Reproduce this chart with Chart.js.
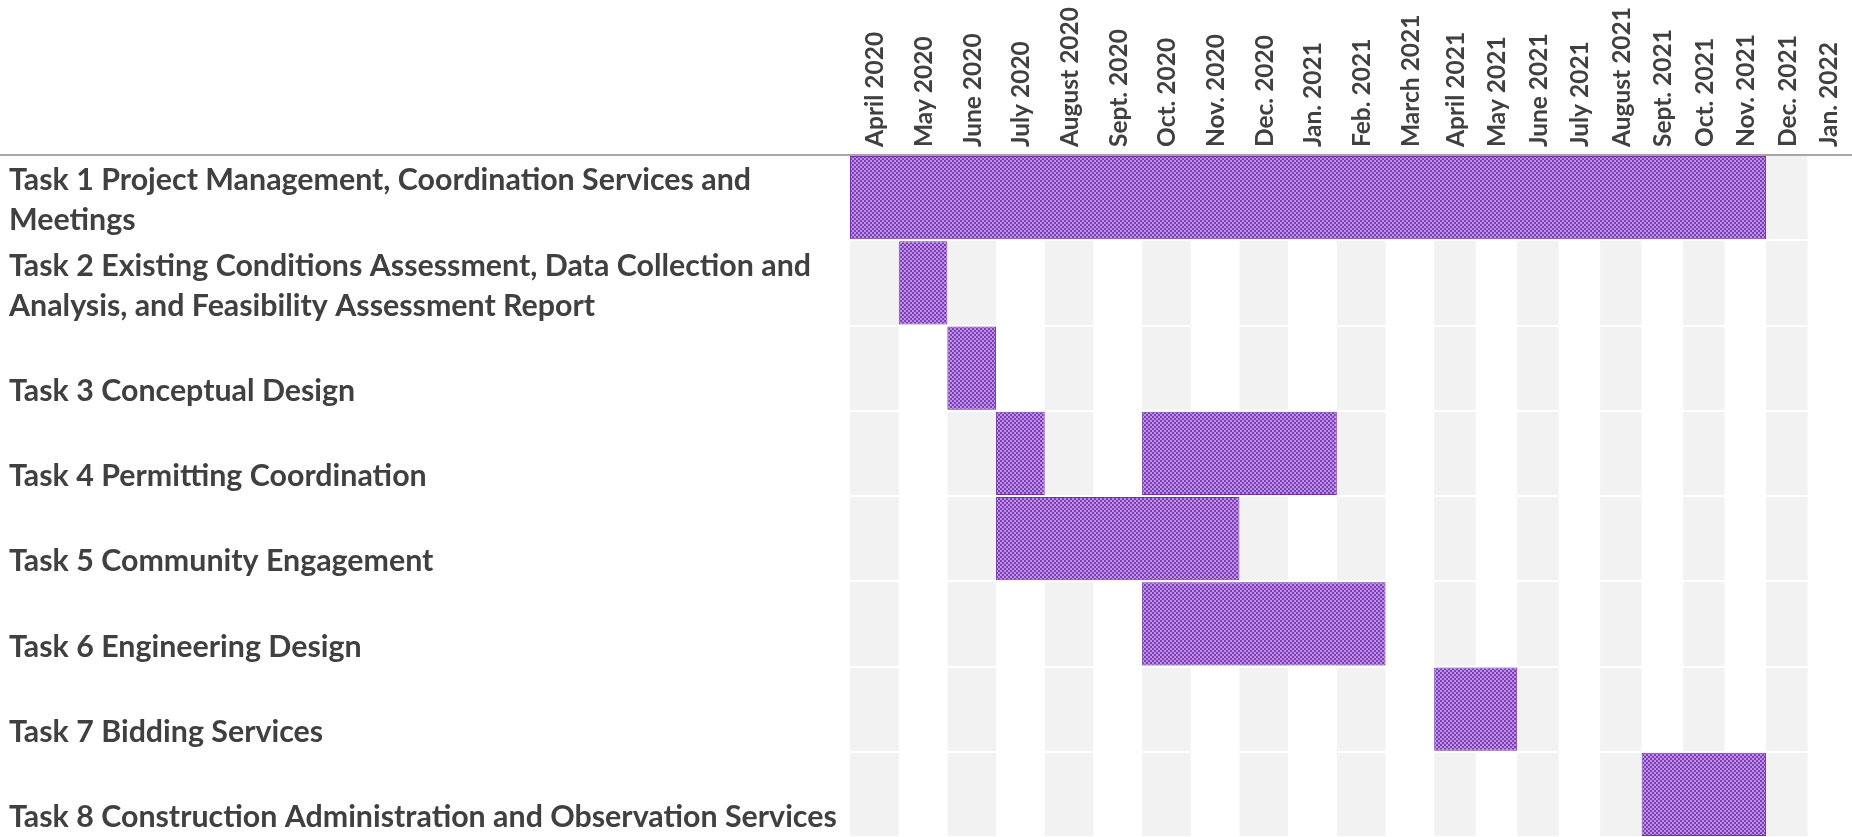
<!DOCTYPE html>
<html>
<head>
<meta charset="utf-8">
<script src="https://cdn.jsdelivr.net/npm/chart.js@4.4.1/dist/chart.umd.min.js"></script>
<style>
  html, body { margin: 0; padding: 0; background: #ffffff; }
  #wrap { position: relative; width: 1852px; height: 837px; }
</style>
</head>
<body>
<div id="wrap"><canvas id="c"></canvas></div>
<script>
// ---------------- DATA ----------------
const MONTHS = ['April 2020', 'May 2020', 'June 2020', 'July 2020', 'August 2020', 'Sept. 2020',
  'Oct. 2020', 'Nov. 2020', 'Dec. 2020', 'Jan. 2021', 'Feb. 2021', 'March 2021', 'April 2021',
  'May 2021', 'June 2021', 'July 2021', 'August 2021', 'Sept. 2021', 'Oct. 2021', 'Nov. 2021',
  'Dec. 2021', 'Jan. 2022'];

const TASKS = [
  ['Task 1 Project Management, Coordination Services and', 'Meetings'],
  ['Task 2 Existing Conditions Assessment, Data Collection and', 'Analysis, and Feasibility Assessment Report'],
  'Task 3 Conceptual Design',
  'Task 4 Permitting Coordination',
  'Task 5 Community Engagement',
  'Task 6 Engineering Design',
  'Task 7 Bidding Services',
  'Task 8 Construction Administration and Observation Services'
];

// spans in month index: [first month, month after the last month]
const MAIN_SPAN = [[0, 20], [1, 2], [2, 3], [3, 4], [3, 8], [6, 11], [12, 14], [17, 20]];
const EXTRA_SPAN = [null, null, null, [6, 10], null, null, null, null];

// ---------------- LAYOUT / STYLE ----------------
const FONT = 'Lato';
const TEXT_COLOR = '#404040';
const STRIPE = '#f2f2f2';
const WIDE_COLS = 12;        // first columns are wider in the original sheet
const NARROW_RATIO = 0.852;  // width of later columns relative to the first ones

const mctx = document.createElement('canvas').getContext('2d');
function fitSize(text, target) {
  mctx.font = 'bold 100px ' + FONT;
  return 100 * target / mctx.measureText(text).width;
}
const TASK_SIZE = fitSize('Task 8 Construction Administration and Observation Services', 828);
const MONTH_SIZE = fitSize('August 2020', 140);
const MONTH_LH = Math.round(MONTH_SIZE * 1.2);

// bar fill pattern (checkered purple)
const tile = document.createElement('canvas');
tile.width = 4; tile.height = 4;
const tctx = tile.getContext('2d');
tctx.fillStyle = '#bd90e4'; tctx.fillRect(0, 0, 4, 4);
tctx.fillStyle = '#7d40b8'; tctx.fillRect(0, 0, 2, 2); tctx.fillRect(2, 2, 2, 2);
const BAR_FILL = tctx.createPattern(tile, 'repeat');

// Column scale: linear month scale with two column widths
class ColumnScale extends Chart.LinearScale {
  static id = 'columns';
  buildTicks() {
    return MONTHS.map((m, i) => ({ value: i + 0.5 }));
  }
  _unit() {
    const n = MONTHS.length;
    return this.width / (WIDE_COLS + (n - WIDE_COLS) * NARROW_RATIO);
  }
  getPixelForValue(value) {
    const u = this._unit();
    const px = value <= WIDE_COLS ? value * u : WIDE_COLS * u + (value - WIDE_COLS) * u * NARROW_RATIO;
    return this.left + px;
  }
  getValueForPixel(pixel) {
    const u = this._unit();
    const d = pixel - this.left;
    return d <= WIDE_COLS * u ? d / u : WIDE_COLS + (d - WIDE_COLS * u) / (u * NARROW_RATIO);
  }
}
Chart.register(ColumnScale);

const decor = {
  id: 'decor',
  beforeDraw(chart) {
    const { ctx, chartArea: a, scales: { x } } = chart;
    ctx.save();
    ctx.fillStyle = STRIPE;
    for (let i = 0; i < MONTHS.length; i += 2) {
      const l = x.getPixelForValue(i), r = x.getPixelForValue(i + 1);
      ctx.fillRect(l, a.top, r - l, a.bottom - a.top);
    }
    ctx.restore();
  },
  beforeDatasetsDraw(chart) {
    const { ctx, chartArea: a } = chart;
    ctx.save();
    ctx.strokeStyle = '#a6a6a6';
    ctx.lineWidth = 2;
    ctx.beginPath();
    ctx.moveTo(0, a.top);
    ctx.lineTo(chart.width, a.top);
    ctx.stroke();
    ctx.restore();
  }
};

const barStyle = {
  backgroundColor: BAR_FILL,
  borderColor: '#7434a8',
  borderWidth: 1,
  borderSkipped: false,
  grouped: false,
  barPercentage: 1,
  categoryPercentage: 0.975
};

new Chart(document.getElementById('c'), {
  type: 'bar',
  data: {
    labels: TASKS,
    datasets: [
      Object.assign({ label: 'Schedule', data: MAIN_SPAN }, barStyle),
      Object.assign({ label: 'Schedule (2)', data: EXTRA_SPAN }, barStyle)
    ]
  },
  options: {
    indexAxis: 'y',
    responsive: true,
    maintainAspectRatio: false,
    animation: false,
    layout: { padding: { left: 9, right: 3, top: 0, bottom: -2 } },
    plugins: { legend: { display: false }, tooltip: { enabled: false } },
    scales: {
      x: {
        type: 'columns',
        position: 'top',
        min: 0,
        max: MONTHS.length,
        grid: { display: false },
        border: { display: false },
        ticks: {
          autoSkip: false,
          minRotation: 90,
          maxRotation: 90,
          padding: 0,
          labelOffset: MONTH_LH + 1,
          color: TEXT_COLOR,
          font: { family: FONT, weight: 'bold', size: MONTH_SIZE, lineHeight: MONTH_LH + 'px' },
          callback: (v, i) => MONTHS[i]
        },
        afterFit(s) { s.height = 155; }
      },
      y: {
        type: 'category',
        offset: true,
        grid: { offset: true, color: '#ffffff', lineWidth: 2, drawTicks: false },
        border: { display: false },
        ticks: {
          autoSkip: false,
          crossAlign: 'far',
          padding: 0,
          labelOffset: 3,
          color: TEXT_COLOR,
          font: { family: FONT, weight: 'bold', size: TASK_SIZE, lineHeight: '40px' },
          callback: function (v, i) {
            const t = TASKS[i];
            return Array.isArray(t) ? t : ['', t];
          }
        },
        afterFit(s) {
          s.width = 850 - 9;
          s.paddingTop = 0;
          s.paddingBottom = 0;
        }
      }
    }
  },
  plugins: [decor]
});
</script>
</body>
</html>
